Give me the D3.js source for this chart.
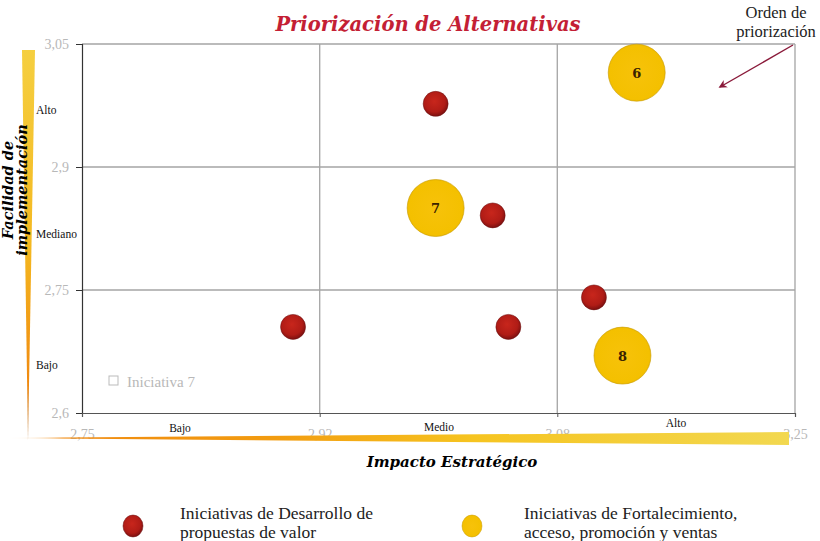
<!DOCTYPE html>
<html>
<head>
<meta charset="utf-8">
<script src="https://cdn.jsdelivr.net/npm/d3@7"></script>
<style>
  body { margin: 0; background: #fff; }
  svg { display: block; font-family: "Liberation Serif", serif; }
  .tick-label { fill: #b8b8b8; font-size: 14px; font-family: "Liberation Serif", serif; }
  .quad { fill: #111; font-size: 11.5px; }
  .heading { font-family: "DejaVu Serif", serif; font-weight: bold; font-style: italic; }
</style>
</head>
<body>
<div id="chart-area"><svg></svg></div>
<script>
const chartSize = { width: 820, height: 541 };
const margin = { left: 82, right: 25, top: 44, bottom: 128 };
const width = chartSize.width - margin.left - margin.right;
const height = chartSize.height - margin.top - margin.bottom;

// data
const redX = [2.998, 3.038, 3.109, 2.898, 3.049];
const redY = [2.977, 2.841, 2.741, 2.705, 2.705];
const redSize = [1, 1, 1, 1, 1];
const yellowX = [3.139, 2.998, 3.129];
const yellowY = [3.015, 2.85, 2.67];
const yellowSize = [5.2, 5.2, 5.2];
const yellowLabels = ["6", "7", "8"];
const xTicks = [2.75, 2.9167, 3.0833, 3.25];
const yTicks = [2.6, 2.75, 2.9, 3.05];
const xBands = ["Bajo", "Medio", "Alto"];
const yBands = ["Bajo", "Mediano", "Alto"];
const legendLabels = [
  ["Iniciativas de Desarrollo de", "propuestas de valor"],
  ["Iniciativas de Fortalecimiento,", "acceso, promoción y ventas"]
];

const svg = d3.select("#chart-area svg")
  .attr("width", chartSize.width)
  .attr("height", chartSize.height);

const defs = svg.append("defs");

const redGrad = defs.append("radialGradient").attr("id", "redGrad")
  .attr("cx", "45%").attr("cy", "40%").attr("r", "60%");
redGrad.append("stop").attr("offset", "0%").attr("stop-color", "#c8261c");
redGrad.append("stop").attr("offset", "70%").attr("stop-color", "#b01c16");
redGrad.append("stop").attr("offset", "100%").attr("stop-color", "#7c1010");

const yelGrad = defs.append("radialGradient").attr("id", "yelGrad")
  .attr("cx", "50%").attr("cy", "50%").attr("r", "55%");
yelGrad.append("stop").attr("offset", "0%").attr("stop-color", "#f7c20a");
yelGrad.append("stop").attr("offset", "85%").attr("stop-color", "#f4c000");
yelGrad.append("stop").attr("offset", "100%").attr("stop-color", "#e8b400");

const xGrad = defs.append("linearGradient").attr("id", "xGrad");
xGrad.append("stop").attr("offset", "0%").attr("stop-color", "#fff").attr("stop-opacity", 0);
xGrad.append("stop").attr("offset", "8%").attr("stop-color", "#f08a10");
xGrad.append("stop").attr("offset", "35%").attr("stop-color", "#f29c10");
xGrad.append("stop").attr("offset", "60%").attr("stop-color", "#f6c420");
xGrad.append("stop").attr("offset", "100%").attr("stop-color", "#f2d850");

const yGrad = defs.append("linearGradient").attr("id", "yGrad")
  .attr("x1", 0).attr("y1", 0).attr("x2", 0).attr("y2", 1);
yGrad.append("stop").attr("offset", "0%").attr("stop-color", "#f5cf40");
yGrad.append("stop").attr("offset", "50%").attr("stop-color", "#f4b820");
yGrad.append("stop").attr("offset", "85%").attr("stop-color", "#f08a10");
yGrad.append("stop").attr("offset", "100%").attr("stop-color", "#c08040");

const x = d3.scaleLinear().domain([2.75, 3.25]).range([0, width]);
const y = d3.scaleLinear().domain([2.6, 3.05]).range([height, 0]);
const r = d3.scaleSqrt().domain([0, 5.2]).range([0, 28.5]);

const g = svg.append("g")
  .attr("transform", `translate(${margin.left},${margin.top})`);

// title
svg.append("text").attr("class", "heading")
  .attr("x", 428).attr("y", 31)
  .attr("text-anchor", "middle")
  .style("font-size", "19.5px")
  .style("fill", "#c41f35")
  .text("Priorización de Alternativas");

// grid
g.selectAll(".vgrid").data(xTicks.slice(1))
  .join("line").attr("class", "vgrid")
  .attr("x1", d => x(d)).attr("x2", d => x(d))
  .attr("y1", 0).attr("y2", height)
  .attr("stroke", "#a4a4a4").attr("stroke-width", 1.3);
g.selectAll(".hgrid").data(yTicks.slice(1))
  .join("line").attr("class", "hgrid")
  .attr("x1", 0).attr("x2", width)
  .attr("y1", d => y(d)).attr("y2", d => y(d))
  .attr("stroke", "#a4a4a4").attr("stroke-width", 1.3);

// axes
const yAxis = d3.axisLeft(y).tickValues(yTicks).tickSize(6)
  .tickFormat(d => d3.format(".2~f")(d).replace(".", ","));
const xAxis = d3.axisBottom(x).tickValues(xTicks).tickSize(4)
  .tickFormat(d => d3.format(".2f")(d).replace(".", ","));

const gy = g.append("g").attr("class", "y-axis").call(yAxis);
gy.select(".domain").attr("stroke", "#333").attr("stroke-width", 1.2);
gy.selectAll(".tick line").attr("stroke", "#333");
gy.selectAll(".tick text").attr("class", "tick-label").attr("x", -13);

const gx = g.append("g").attr("class", "x-axis")
  .attr("transform", `translate(0,${height})`).call(xAxis);
gx.select(".domain").attr("stroke", "#555").attr("stroke-width", 1.2);
gx.selectAll(".tick line").attr("stroke", "#555");
gx.selectAll(".tick text").attr("class", "tick-label").attr("y", 16);

// gradient wedges
g.append("path")
  .attr("d", `M${-margin.left},${height + 25} L${width - 6},${height + 19} L${width - 6},${height + 32} Z`)
  .attr("fill", "url(#xGrad)");
g.append("path")
  .attr("d", `M${-60},${y(3.05) + 6} L${-47},${y(3.05) + 6} L${-54},${height + 28} Z`)
  .attr("fill", "url(#yGrad)");

// band labels
const xBandPos = [180, 439, 676];
const xBandY = [432, 431, 427];
svg.selectAll(".xband").data(xBands)
  .join("text").attr("class", "quad")
  .attr("x", (d, i) => xBandPos[i]).attr("y", (d, i) => xBandY[i])
  .attr("text-anchor", "middle").text(d => d);
const yBandPos = [369, 238, 114];
svg.selectAll(".yband").data(yBands)
  .join("text").attr("class", "quad")
  .attr("x", 36).attr("y", (d, i) => yBandPos[i])
  .text(d => d);

// axis titles
svg.append("text").attr("class", "heading")
  .attr("x", 452).attr("y", 467)
  .attr("text-anchor", "middle")
  .style("font-size", "15px")
  .text("Impacto Estratégico");

const yt = svg.append("text").attr("class", "heading")
  .attr("transform", "translate(0,190) rotate(-90)")
  .attr("text-anchor", "middle")
  .style("font-size", "14.5px");
yt.append("tspan").attr("x", 0).attr("y", 13).text("Facilidad de");
yt.append("tspan").attr("x", 0).attr("y", 27).text("implementación");

// faded series label
svg.append("rect").attr("x", 109).attr("y", 376).attr("width", 9).attr("height", 9)
  .attr("fill", "none").attr("stroke", "#bbb");
svg.append("text").attr("x", 127).attr("y", 387)
  .style("font-size", "15px").style("fill", "#b8b8b8").text("Iniciativa 7");

// bubbles
const reds = redX.map((d, i) => ({ x: d, y: redY[i], s: redSize[i] }));
const yellows = yellowX.map((d, i) => ({ x: d, y: yellowY[i], s: yellowSize[i], label: yellowLabels[i] }));

g.selectAll(".red").data(reds)
  .join("circle").attr("class", "red")
  .attr("cx", d => x(d.x)).attr("cy", d => y(d.y))
  .attr("r", d => r(d.s))
  .attr("fill", "url(#redGrad)")
  .attr("stroke", "#6a1010").attr("stroke-width", 0.5);

g.selectAll(".yellow").data(yellows)
  .join("circle").attr("class", "yellow")
  .attr("cx", d => x(d.x)).attr("cy", d => y(d.y))
  .attr("r", d => r(d.s))
  .attr("fill", "url(#yelGrad)")
  .attr("stroke", "#c89a00").attr("stroke-width", 0.6);

g.selectAll(".ylabel").data(yellows)
  .join("text").attr("class", "ylabel")
  .attr("x", d => x(d.x)).attr("y", d => y(d.y) + 5)
  .attr("text-anchor", "middle")
  .style("font-family", "'DejaVu Serif', serif")
  .style("font-size", "13px").style("font-weight", "bold").style("fill", "#3a2200")
  .text(d => d.label);

// annotation
svg.append("text").attr("x", 776).attr("y", 18).attr("text-anchor", "middle")
  .style("font-size", "16.5px").style("fill", "#222").text("Orden de");
svg.append("text").attr("x", 776).attr("y", 37).attr("text-anchor", "middle")
  .style("font-size", "16.5px").style("fill", "#222").text("priorización");
defs.append("marker").attr("id", "arrow")
  .attr("viewBox", "0 0 10 10").attr("refX", 8).attr("refY", 5)
  .attr("markerWidth", 6).attr("markerHeight", 6).attr("orient", "auto")
  .append("path").attr("d", "M0,0 L10,5 L0,10 L3,5 Z").attr("fill", "#8a1a3a");
svg.append("line")
  .attr("x1", 793).attr("y1", 45).attr("x2", 720).attr("y2", 87)
  .attr("stroke", "#8a1a3a").attr("stroke-width", 1.4)
  .attr("marker-end", "url(#arrow)");

// legend
const legX = [133, 472];
const legTextX = [180, 524];
const legFill = ["url(#redGrad)", "url(#yelGrad)"];
const leg = svg.selectAll(".legend").data(legendLabels)
  .join("g").attr("class", "legend");
leg.append("ellipse")
  .attr("cx", (d, i) => legX[i]).attr("cy", 526)
  .attr("rx", 10).attr("ry", 11)
  .attr("fill", (d, i) => legFill[i])
  .attr("stroke", (d, i) => i ? "#c89a00" : "#6a1010").attr("stroke-width", 0.5);
leg.append("text")
  .attr("x", (d, i) => legTextX[i]).attr("y", 519)
  .style("font-size", "17.5px").style("fill", "#222")
  .text(d => d[0]);
leg.append("text")
  .attr("x", (d, i) => legTextX[i]).attr("y", 538)
  .style("font-size", "17.5px").style("fill", "#222")
  .text(d => d[1]);
</script>
</body>
</html>
